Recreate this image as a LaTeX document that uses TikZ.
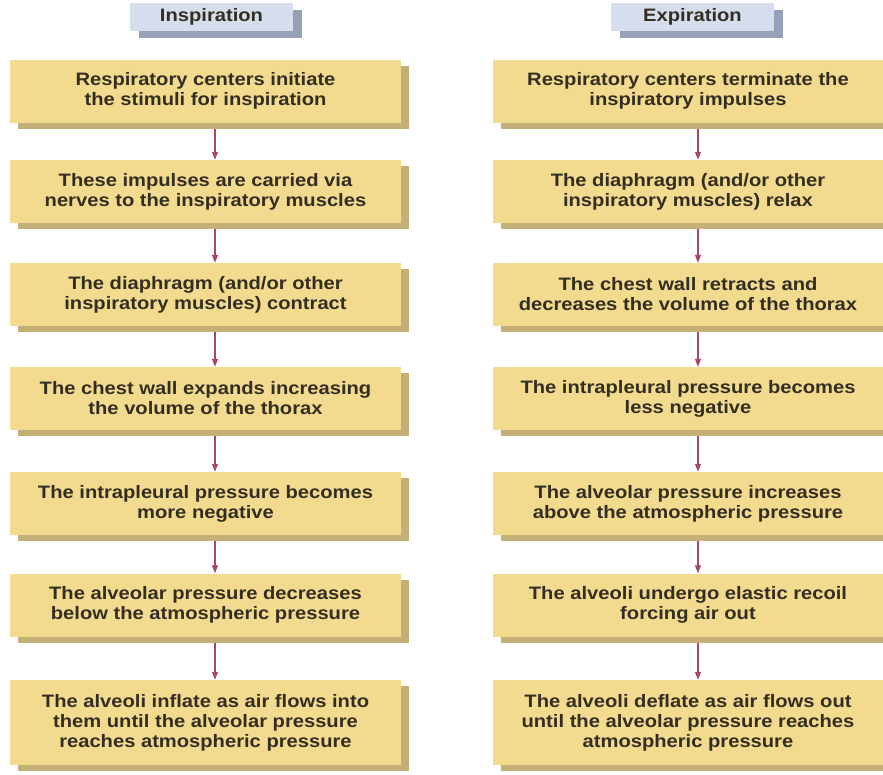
\documentclass[tikz,border=0pt]{standalone}
\usepackage{fontspec}
\setmainfont{Liberation Sans}[FakeStretch=1.12]
\usetikzlibrary{shadows,arrows.meta}

\begin{document}
\definecolor{boxfill}{RGB}{242,219,142}
\definecolor{boxshade}{RGB}{196,176,118}
\definecolor{headfill}{RGB}{214,221,236}
\definecolor{headshade}{RGB}{150,160,182}
\definecolor{linkcol}{RGB}{168,72,104}
\definecolor{inkcol}{RGB}{52,46,34}

\tikzset{
  stepbox/.style={fill=boxfill, minimum width=391pt, minimum height=63pt,
    inner sep=0pt, align=center, text=inkcol,
    font=\bfseries\fontsize{18}{20}\selectfont,
    drop shadow={shadow xshift=8pt, shadow yshift=-6pt, fill=boxshade, opacity=1}},
  tallbox/.style={stepbox, minimum height=85pt},
  headbox/.style={fill=headfill, minimum width=163pt, minimum height=28pt,
    inner sep=0pt, text=inkcol, font=\bfseries\fontsize{18}{20}\selectfont,
    drop shadow={shadow xshift=9pt, shadow yshift=-7pt, fill=headshade, opacity=1}},
  link/.style={draw=linkcol, line width=1.1pt,
    -{Triangle[length=8pt,width=6pt]}}
}

\begin{tikzpicture}[x=1pt,y=-1pt]
\useasboundingbox (0,0) rectangle (883,774);
\fill[white] (0,0) rectangle (883,774);

% column headings
\node[headbox] (hin) at (211.5,17) {Inspiration};
\node[headbox] (hex) at (692.5,17) {Expiration};

% inspiration sequence
\node[stepbox] (i1) at (205.5,91)    {Respiratory centers initiate\\the stimuli for inspiration};
\node[stepbox] (i2) at (205.5,191.5) {These impulses are carried via\\nerves to the inspiratory muscles};
\node[stepbox] (i3) at (205.5,294.5) {The diaphragm (and/or other\\inspiratory muscles) contract};
\node[stepbox] (i4) at (205.5,398.5) {The chest wall expands increasing\\the volume of the thorax};
\node[stepbox] (i5) at (205.5,503.5) {The intrapleural pressure becomes\\more negative};
\node[stepbox] (i6) at (205.5,605)   {The alveolar pressure decreases\\below the atmospheric pressure};
\node[tallbox] (i7) at (205.5,722.5) {The alveoli inflate as air flows into\\them until the alveolar pressure\\reaches atmospheric pressure};

% expiration sequence
\node[stepbox] (e1) at (688,91)    {Respiratory centers terminate the\\inspiratory impulses};
\node[stepbox] (e2) at (688,191.5) {The diaphragm (and/or other\\inspiratory muscles) relax};
\node[stepbox] (e3) at (688,294.5) {The chest wall retracts and\\decreases the volume of the thorax};
\node[stepbox] (e4) at (688,398.5) {The intrapleural pressure becomes\\less negative};
\node[stepbox] (e5) at (688,503.5) {The alveolar pressure increases\\above the atmospheric pressure};
\node[stepbox] (e6) at (688,605)   {The alveoli undergo elastic recoil\\forcing air out};
\node[tallbox] (e7) at (688,722.5) {The alveoli deflate as air flows out\\until the alveolar pressure reaches\\atmospheric pressure};

% arrows between successive steps
\foreach \a/\b in {1/2,2/3,3/4,4/5,5/6,6/7}{
  \draw[link] ([xshift=9.5pt,yshift=-6pt]i\a.south) -- ([xshift=9.5pt]i\b.north);
  \draw[link] ([xshift=10pt,yshift=-6pt]e\a.south) -- ([xshift=10pt]e\b.north);
}
\end{tikzpicture}
\end{document}
